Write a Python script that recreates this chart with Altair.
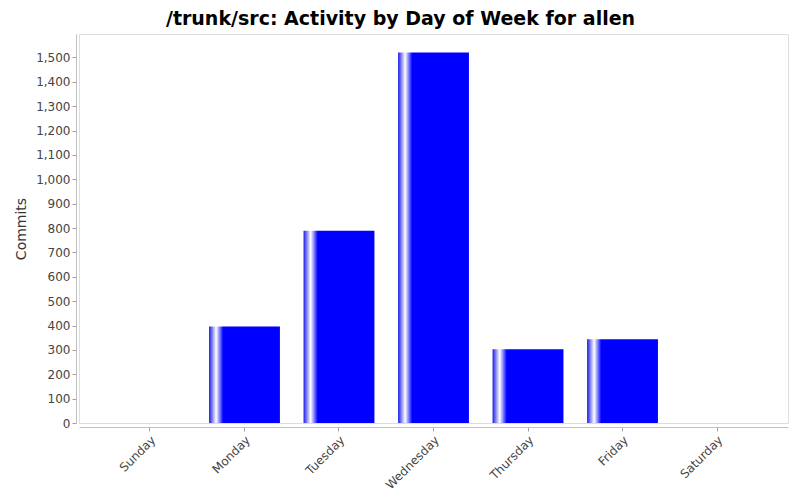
import altair as alt
import pandas as pd

days = ["Sunday", "Monday", "Tuesday", "Wednesday", "Thursday", "Friday", "Saturday"]
commits = [0, 396, 789, 1520, 303, 344, 0]
y_ticks = list(range(0, 1600, 100))

df = pd.DataFrame({"day": days, "commits": commits})

grad = alt.LinearGradient(
    gradient="linear", x1=0, x2=1, y1=0, y2=0,
    stops=[
        alt.GradientStop(color="#1a1ae6", offset=0),
        alt.GradientStop(color="#ffffff", offset=0.10),
        alt.GradientStop(color="#0000ff", offset=0.20),
        alt.GradientStop(color="#0000ff", offset=1),
    ],
)

chart = alt.Chart(df).mark_bar(color=grad).encode(
    x=alt.X("day:N", sort=days, title=None,
            scale=alt.Scale(paddingInner=0.25, paddingOuter=0.376),
            axis=alt.Axis(labelAngle=-45, labelAlign="right", labelBaseline="top",
                          offset=4, domainColor="#c0c0c0", tickColor="#a0a0a0",
                          tickSize=4, labelFont="DejaVu Sans", labelFontSize=12,
                          labelColor="#444444", labelPadding=3)),
    y=alt.Y("commits:Q", title="Commits",
            scale=alt.Scale(domain=[0, 1596], nice=False),
            axis=alt.Axis(values=y_ticks, format=",d", offset=3,
                          grid=False, domainColor="#c0c0c0", tickColor="#a0a0a0",
                          tickSize=4, labelFont="DejaVu Sans", labelFontSize=12,
                          labelColor="#444444", labelPadding=2,
                          titleFont="DejaVu Sans", titleFontSize=14,
                          titleFontWeight="normal", titleColor="#333333",
                          titlePadding=7)),
).properties(
    width=709,
    height=389,
    title=alt.TitleParams(
        "/trunk/src: Activity by Day of Week for allen",
        font="DejaVu Sans", fontSize=19, fontWeight="bold", color="#000000",
        anchor="middle", dx=-33, offset=5,
    ),
    padding={"left": 71, "top": 26, "right": 4, "bottom": 70},
    autosize=alt.AutoSizeParams(type="none"),
).configure_view(
    stroke="#808080", strokeWidth=1,
).configure(background="white")

chart.save("out.html", embed_options={"renderer": "svg", "actions": False})
